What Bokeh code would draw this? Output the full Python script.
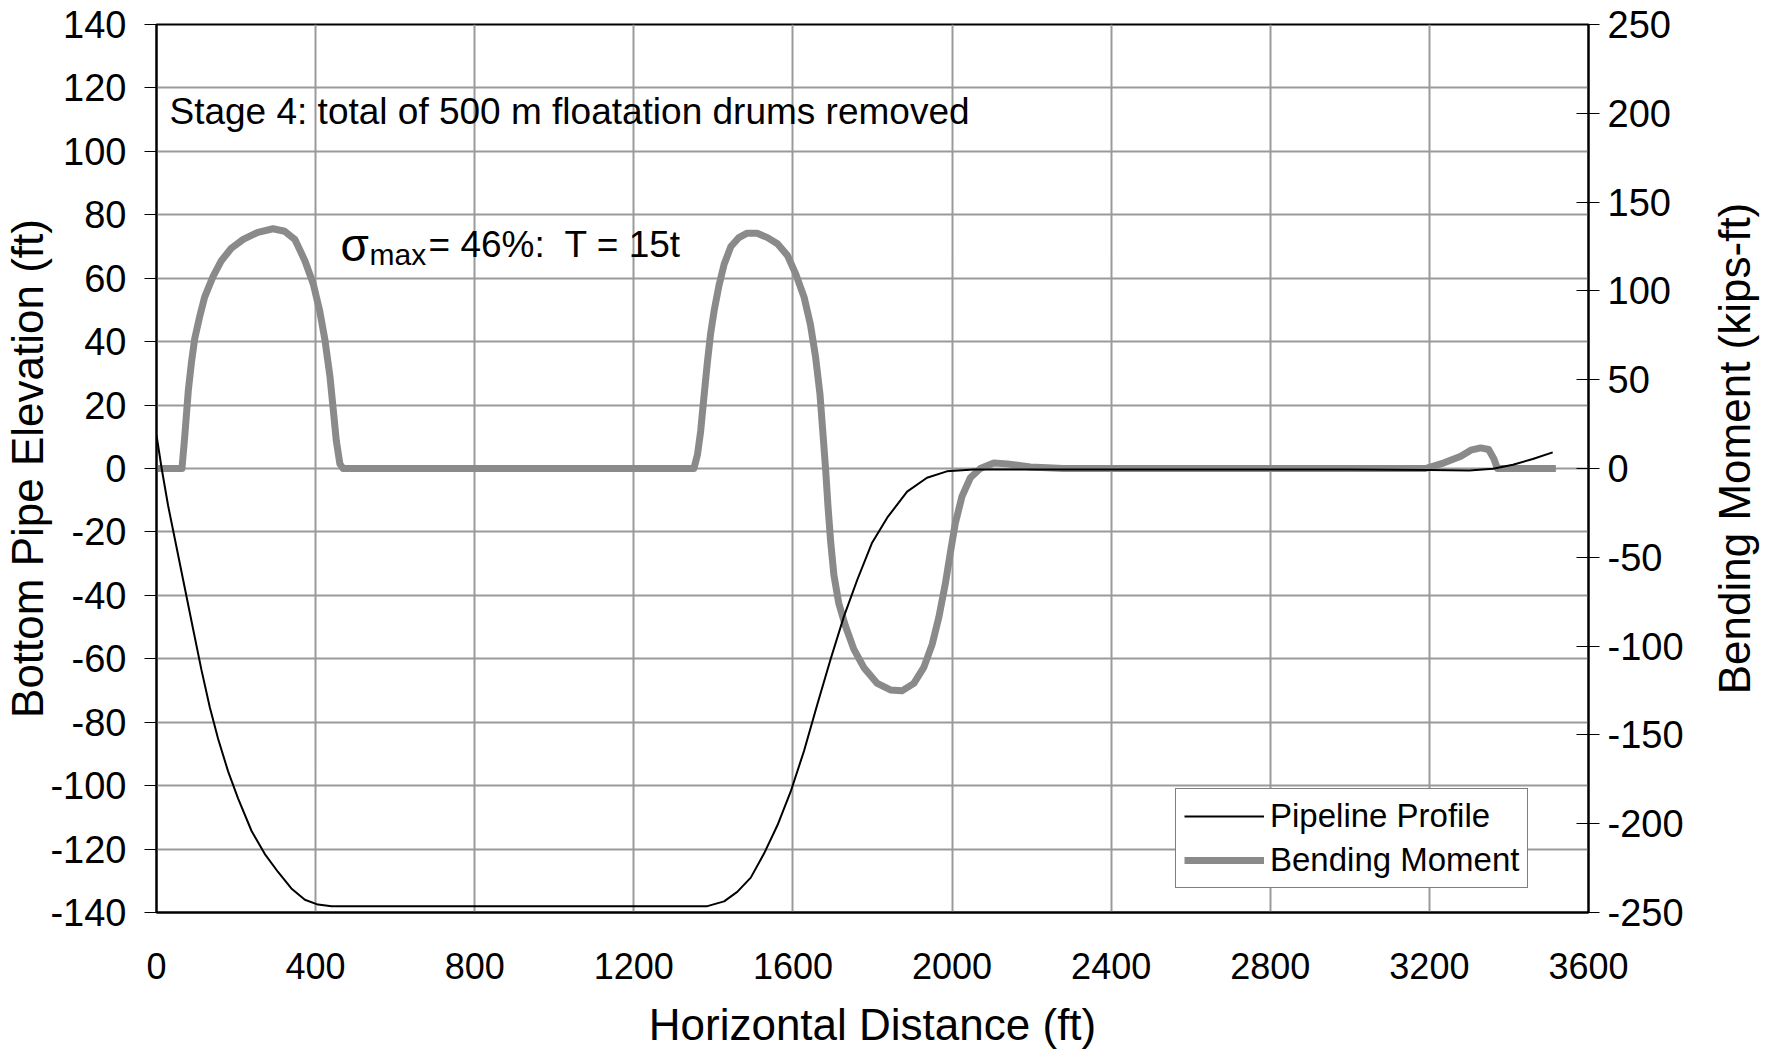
import math
from bokeh.plotting import figure
from bokeh.layouts import row
from bokeh.models import Range1d, LinearAxis, FixedTicker, Label, Legend, LegendItem
from bokeh.embed import file_html
from bokeh.resources import INLINE

# ---------------- data ----------------
x_ticks = [0, 400, 800, 1200, 1600, 2000, 2400, 2800, 3200, 3600]
left_ticks = [-140, -120, -100, -80, -60, -40, -20, 0, 20, 40, 60, 80, 100, 120, 140]
right_ticks = [-250, -200, -150, -100, -50, 0, 50, 100, 150, 200, 250]

profile_x = [0, 13, 29, 50, 71, 92, 113, 134, 155, 180, 205, 239, 272, 306, 339, 373, 406, 440,
             800, 1200, 1385, 1427, 1460, 1494, 1527, 1561, 1594, 1628, 1661, 1695, 1728,
             1762, 1799, 1837, 1887, 1937, 1987, 2054, 2200, 2600, 3000, 3200, 3300, 3360,
             3410, 3460, 3510]
profile_y = [10.5, 0, -11.6, -24.6, -37.6, -50.6, -63.5, -75.3, -85.3, -95.5, -104, -114.3,
             -121.5, -127.3, -132.4, -136, -137.5, -138,
             -138, -138, -138, -136.5, -133.5, -129, -121.5, -112.5, -102, -89, -74.5, -60, -46.7,
             -35, -23.4, -15.5, -7.3, -2.9, -0.9, -0.3, -0.3, -0.3, -0.3, -0.5, -0.6, -0.1,
             1.2, 3.0, 5.1]

moment_x = [0, 64, 71, 80, 88, 96, 109, 121, 142, 163, 188, 218, 255, 293, 322, 348, 373,
            394, 410, 423, 436, 444, 452, 461, 469,
            1351, 1360, 1368, 1377, 1385, 1393, 1402, 1414, 1427, 1444, 1464, 1485, 1510,
            1536, 1561, 1586, 1607, 1628, 1644, 1657, 1668, 1676, 1682, 1688, 1695, 1703,
            1715, 1732, 1753, 1778, 1812, 1845, 1874, 1904, 1929, 1950, 1967, 1983, 1996,
            2008, 2025, 2046, 2071, 2105, 2138, 2197, 2280,
            3190, 3237, 3279, 3304, 3329, 3349, 3362, 3371, 3518]
moment_y = [0, 0, 18, 44, 60, 73, 86, 96.5, 108, 117, 124, 129, 133, 135, 133.6, 129, 117,
            104, 89, 73, 52, 34, 15.7, 2.6, 0,
            0, 7.8, 21, 42, 60, 76, 89, 103, 115, 125, 130, 132.5, 132.5,
            130, 126.5, 120, 109.6, 96.5, 81, 62.6, 41.7, 18, 0, -21, -41.7, -60,
            -75.7, -88.7, -101.7, -112, -121, -124.7, -125.2, -121, -112, -99, -83.5, -65, -47,
            -31, -15.7, -5.2, 0, 3.1, 2.6, 0.8, 0,
            0, 3.2, 6.9, 10.3, 11.6, 10.7, 5.5, 0, 0]

FONT = "Liberation Sans"
XTICK_FS = "36px"
YTICK_FS = "38px"
TITLE_FS = "44px"
GRID = "#9a9a9a"
BM_COLOR = "#8a8a8a"

MAIN_W = 1700
TITLE_W = 1777 - MAIN_W
FRAME_TOP = 24
FRAME_BOTTOM = 912

p = figure(width=MAIN_W, height=1052, output_backend="svg", toolbar_location=None,
           x_range=Range1d(0, 3600), y_range=Range1d(-140, 140),
           min_border_left=155, min_border_right=MAIN_W - 1588, min_border_top=FRAME_TOP,
           min_border_bottom=1052 - FRAME_BOTTOM,
           background_fill_color="white", border_fill_color="white")
p.extra_y_ranges = {"bm": Range1d(-250, 250)}

p.outline_line_color = "black"
p.outline_line_width = 2

# grids
p.xgrid.ticker = FixedTicker(ticks=x_ticks)
p.ygrid.ticker = FixedTicker(ticks=left_ticks)
for g in (p.xgrid, p.ygrid):
    g.grid_line_color = GRID
    g.grid_line_width = 2


def style_axis(ax, fs):
    ax.axis_line_color = "black"
    ax.axis_line_width = 2
    ax.minor_tick_out = 0
    ax.minor_tick_in = 0
    ax.major_tick_line_color = "black"
    ax.major_tick_line_width = 1
    ax.major_label_text_font = FONT
    ax.major_label_text_font_size = fs
    ax.major_label_text_color = "black"
    ax.axis_label_text_font = FONT
    ax.axis_label_text_font_size = TITLE_FS
    ax.axis_label_text_font_style = "normal"
    ax.axis_label_text_color = "black"


# bottom axis (labels, line acts as bottom border)
xa = p.xaxis[0]
style_axis(xa, XTICK_FS)
xa.ticker = FixedTicker(ticks=x_ticks)
xa.major_tick_out = 0
xa.major_tick_in = 0
xa.major_label_standoff = 40
xa.axis_label = "Horizontal Distance (ft)"
xa.axis_label_standoff = 18

# left axis
ya = p.yaxis[0]
style_axis(ya, YTICK_FS)
ya.ticker = FixedTicker(ticks=left_ticks)
ya.major_label_overrides = {t: str(t) for t in left_ticks}
ya.major_tick_out = 12
ya.major_tick_in = 0
ya.major_label_standoff = 18
ya.axis_label = "Bottom Pipe Elevation (ft)"
ya.axis_label_standoff = -5

# right axis (title is drawn in a narrow companion figure)
ra = LinearAxis(y_range_name="bm", ticker=FixedTicker(ticks=right_ticks))
style_axis(ra, YTICK_FS)
ra.major_label_overrides = {t: str(t) for t in right_ticks}
ra.major_tick_out = 11
ra.major_tick_in = 12
ra.major_label_standoff = 8
p.add_layout(ra, "right")

# horizontal axis line crossing at y = 0 (ticks pointing down)
za = LinearAxis(fixed_location=0, ticker=FixedTicker(ticks=x_ticks))
za.axis_line_color = "black"
za.axis_line_width = 1
za.major_tick_out = 0
za.major_tick_in = 10
za.minor_tick_out = 0
za.minor_tick_in = 0
za.major_tick_line_color = "black"
za.major_label_text_font_size = "1px"
za.major_label_text_alpha = 0
za.major_label_standoff = 0
za.level = "underlay"
p.add_layout(za, "above")

# series
r_bm = p.line(moment_x, moment_y, y_range_name="bm", line_color=BM_COLOR, line_width=7,
              line_join="round")
r_prof = p.line(profile_x, profile_y, line_color="black", line_width=2)

legend = Legend(items=[LegendItem(label="Pipeline Profile", renderers=[r_prof]),
                       LegendItem(label="Bending Moment", renderers=[r_bm])],
                location=(1019, 24))
legend.label_text_font = FONT
legend.label_text_font_size = "33px"
legend.label_text_color = "black"
legend.glyph_width = 80
legend.glyph_height = 30
legend.label_standoff = 6
legend.padding = 8
legend.spacing = 6
legend.margin = 0
legend.border_line_color = "black"
legend.border_line_width = 1
legend.background_fill_color = "white"
legend.background_fill_alpha = 1
p.add_layout(legend)


def lab(fig, text, x, y, size, angle=0.0, align="left", baseline="alphabetic"):
    l = Label(x=x, y=y, x_units="screen", y_units="screen", text=text,
              text_font=FONT, text_font_size=size, text_color="black",
              angle=angle, text_align=align, text_baseline=baseline)
    fig.add_layout(l)
    return l


lab(p, "Stage 4: total of 500 m floatation drums removed", 13, 801, "37px")
lab(p, "\u03c3", 184, 668, "46px")
lab(p, "max", 213, 658, "30px")
lab(p, "= 46%:\u00a0 T = 15t", 272, 668, "37px")

# companion strip carrying the right-hand axis title (reads bottom to top);
# its frame is aligned with the main frame by the row layout
q = figure(width=TITLE_W, height=1052, output_backend="svg", toolbar_location=None,
           x_range=Range1d(0, 1), y_range=Range1d(0, 1),
           x_axis_location=None, y_axis_location=None, min_border=0,
           background_fill_color="white", border_fill_color="white")
q.outline_line_color = None
q.grid.visible = False
lab(q, "Bending Moment (kips-ft)", 1734 - MAIN_W, FRAME_BOTTOM - 448, TITLE_FS,
    angle=math.pi / 2, align="center", baseline="middle")

layout = row(p, q, spacing=0)
open("out.html", "w").write(file_html(layout, INLINE))
